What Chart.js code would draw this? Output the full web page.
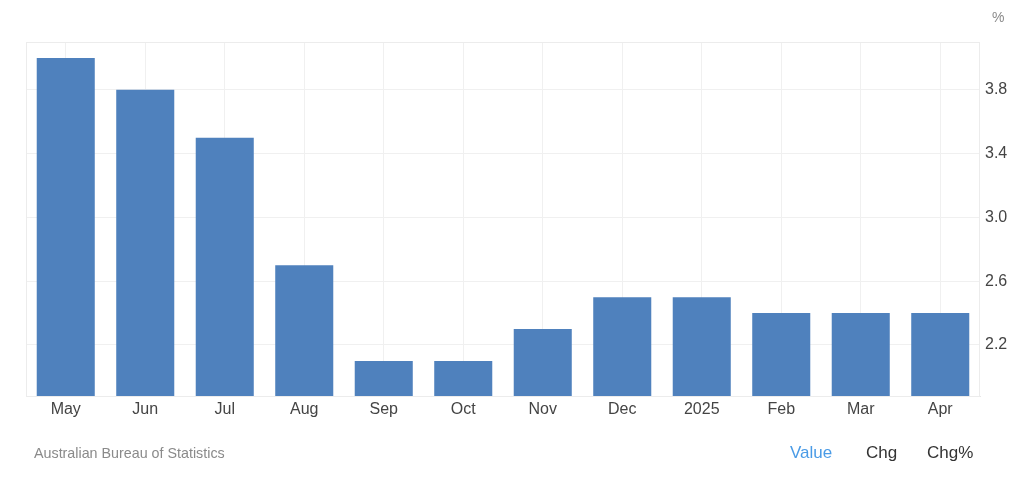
<!DOCTYPE html>
<html>
<head>
<meta charset="utf-8">
<script src="https://cdn.jsdelivr.net/npm/chart.js@4"></script>
<style>
  html, body { margin: 0; padding: 0; background: #fff; }
  #wrap { position: relative; width: 1024px; height: 482px; font-family: "Liberation Sans", Arial, sans-serif; }
  #chart { position: absolute; left: 0; top: 0; }
  .unit { position: absolute; left: 992px; top: 9px; font-size: 14px; color: #8a8a8a; }
  .source { position: absolute; left: 34px; top: 445px; font-size: 14.3px; color: #8a8a8a; }
  .tabs { position: absolute; top: 443px; font-size: 17px; color: #333; }
</style>
</head>
<body>
<div id="wrap">
  <canvas id="chart" width="1024" height="482"></canvas>
  <div class="unit">%</div>
  <div class="source">Australian Bureau of Statistics</div>
  <div class="tabs" style="left:790px;color:#4a9be6">Value</div>
  <div class="tabs" style="left:866px">Chg</div>
  <div class="tabs" style="left:927px">Chg%</div>
</div>
<script>
// data
const months = ["May", "Jun", "Jul", "Aug", "Sep", "Oct", "Nov", "Dec", "2025", "Feb", "Mar", "Apr"];
const values = [4.0, 3.8, 3.5, 2.7, 2.1, 2.1, 2.3, 2.5, 2.5, 2.4, 2.4, 2.4];
const yTicks = [2.2, 2.6, 3.0, 3.4, 3.8];
const yMin = 1.88, yMax = 4.1;

// light frame round the plot area
const framePlugin = {
  id: 'frame',
  beforeDatasetsDraw(chart){
    const a = chart.chartArea, ctx = chart.ctx;
    ctx.save();
    ctx.strokeStyle = '#ececec';
    ctx.lineWidth = 1;
    ctx.strokeRect(a.left + 0.5, a.top + 0.5, a.right - a.left - 1, a.bottom - a.top);
    ctx.restore();
  }
};

new Chart(document.getElementById('chart').getContext('2d'), {
  type: 'bar',
  data: {
    labels: months,
    datasets: [{
      data: values,
      backgroundColor: '#4f81bd',
      borderWidth: 0,
      categoryPercentage: 1,
      barPercentage: 0.73
    }]
  },
  plugins: [framePlugin],
  options: {
    responsive: false,
    animation: false,
    layout: { padding: { left: 26, top: 42, right: 0, bottom: 0 } },
    plugins: { legend: { display: false }, tooltip: { enabled: false } },
    scales: {
      x: {
        grid: { color: '#f0f0f0', drawTicks: false, offset: false },
        border: { display: true, color: '#e6e6e6' },
        ticks: { color: '#444', padding: 4, font: { family: 'Liberation Sans', size: 16 } },
        afterFit(s){ s.height = 86; }
      },
      y: {
        position: 'right',
        min: yMin,
        max: yMax,
        afterBuildTicks(s){ s.ticks = [yMin, ...yTicks, yMax].map(v => ({ value: v })); },
        grid: { color: (c) => (c.tick && yTicks.includes(c.tick.value)) ? '#f0f0f0' : 'rgba(0,0,0,0)', drawTicks: false },
        border: { display: false },
        ticks: {
          color: '#444', padding: 5,
          font: { family: 'Liberation Sans', size: 16 },
          callback: (v) => yTicks.includes(v) ? v.toFixed(1) : ''
        },
        afterFit(s){ s.width = 44; }
      }
    }
  }
});
</script>
</body>
</html>
